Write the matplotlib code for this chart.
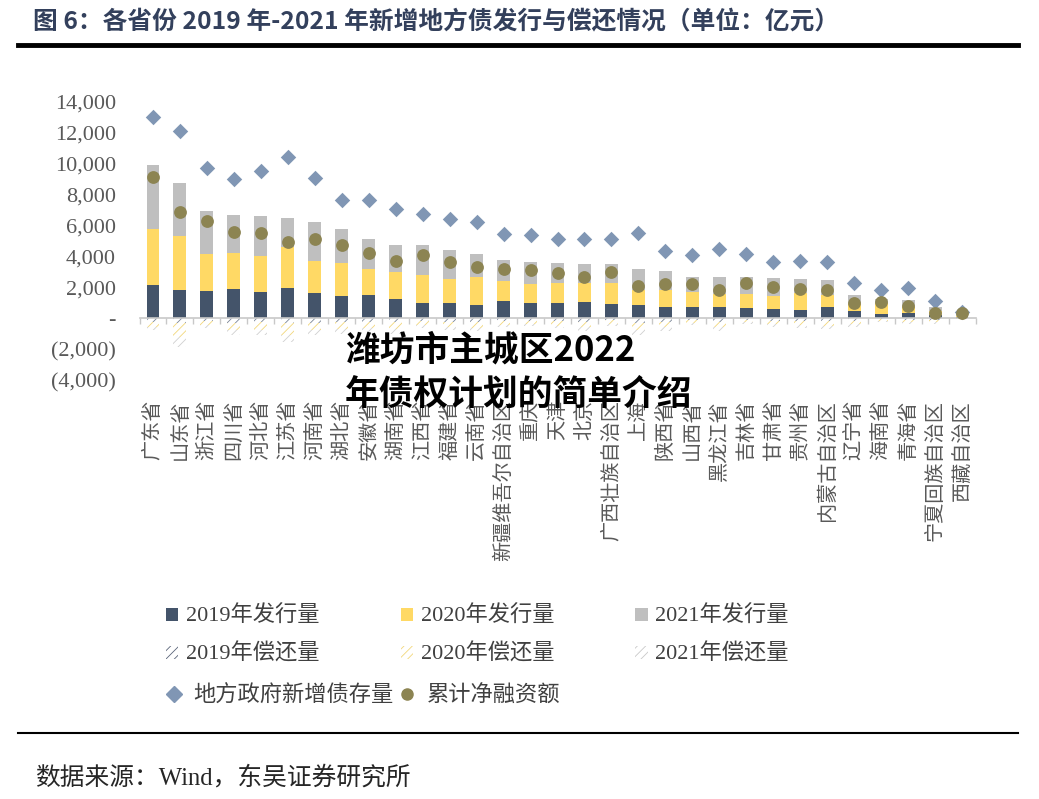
import matplotlib
matplotlib.use('Agg')
import matplotlib.pyplot as plt
import numpy as np
from matplotlib.patches import Patch
from matplotlib.lines import Line2D
from matplotlib.ticker import FuncFormatter, FixedLocator

provinces = ['广东省', '山东省', '浙江省', '四川省', '河北省', '江苏省', '河南省', '湖北省',
             '安徽省', '湖南省', '江西省', '福建省', '云南省', '新疆维吾尔自治区', '重庆', '天津',
             '北京', '广西壮族自治区', '上海', '陕西省', '山西省', '黑龙江省', '吉林省', '甘肃省',
             '贵州省', '内蒙古自治区', '辽宁省', '海南省', '青海省', '宁夏回族自治区', '西藏自治区']

issue_2019 = [2130, 1810, 1770, 1870, 1700, 1940, 1620, 1440, 1490, 1230, 950, 950, 840, 1100, 950, 950,
              1020, 910, 840, 740, 700, 700, 630, 570, 520, 700, 460, 270, 340, 200, 60]
issue_2020 = [3610, 3490, 2410, 2360, 2330, 2630, 2060, 2130, 1720, 1760, 1830, 1570, 1790, 1320, 1230, 1300,
              1270, 1340, 980, 1080, 1000, 850, 920, 860, 1080, 790, 490, 700, 430, 250, 100]
issue_2021 = [4160, 3430, 2740, 2430, 2570, 1910, 2530, 2190, 1890, 1730, 1940, 1880, 1550, 1330, 1450, 1310,
              1210, 1250, 1360, 1210, 970, 1080, 1080, 1150, 910, 1010, 540, 300, 390, 250, 150]

repay_2019 = [250, 300, 200, 300, 280, 300, 300, 280, 250, 280, 200, 220, 230, 180, 160, 200,
              250, 150, 300, 230, 140, 230, 120, 160, 180, 200, 160, 70, 120, 100, 10]
repay_2020 = [300, 950, 250, 450, 480, 800, 450, 420, 370, 450, 260, 320, 380, 250, 220, 280,
              350, 210, 480, 360, 200, 350, 160, 230, 270, 290, 230, 100, 160, 150, 20]
repay_2021 = [210, 600, 170, 330, 310, 450, 350, 310, 250, 300, 180, 210, 240, 160, 140, 180,
              220, 140, 310, 230, 130, 230, 100, 150, 170, 190, 150, 60, 110, 100, 20]

new_debt_stock = [13020, 12110, 9680, 8970, 9530, 10440, 9080, 7640, 7640, 7050, 6730, 6430, 6210, 5430,
                  5390, 5090, 5090, 5130, 5520, 4330, 4100, 4480, 4180, 3650, 3710, 3660, 2250, 1850,
                  1920, 1120, 400]
net_financing = [9140, 6880, 6290, 5580, 5520, 4940, 5110, 4740, 4230, 3690, 4080, 3650, 3320, 3150,
                 3100, 2890, 2670, 2990, 2070, 2200, 2200, 1810, 2250, 2020, 1870, 1810, 950, 1040,
                 780, 340, 340]

y_ticks = [-4000, -2000, 0, 2000, 4000, 6000, 8000, 10000, 12000, 14000]

series_labels = ['2019年发行量', '2020年发行量', '2021年发行量',
                 '2019年偿还量', '2020年偿还量', '2021年偿还量',
                 '地方政府新增债存量', '累计净融资额']

C_NAVY = '#44546A'
C_YEL = '#FFD965'
C_GRAY = '#BFBFBF'
C_DIA = '#8096B4'
C_CIR = '#8C8452'

serif_cjk = ['Liberation Serif', 'Noto Sans CJK SC']
plt.rcParams['hatch.linewidth'] = 0.6

W, H = 1039, 799
fig = plt.figure(figsize=(W / 100, H / 100), dpi=100)
ax = fig.add_axes([139.5 / W, 1 - 380 / H, 836 / W, 278.3 / H])

x = np.arange(len(provinces))
i19 = np.array(issue_2019)
i20 = np.array(issue_2020)
i21 = np.array(issue_2021)
r19 = -np.array(repay_2019)
r20 = -np.array(repay_2020)
r21 = -np.array(repay_2021)

bw = 0.48
ax.bar(x, i19, bw, color=C_NAVY, zorder=2)
ax.bar(x, i20, bw, bottom=i19, color=C_YEL, zorder=2)
ax.bar(x, i21, bw, bottom=i19 + i20, color=C_GRAY, zorder=2)
ax.bar(x, r19, bw, facecolor='white', edgecolor='#7A8496', hatch='////', linewidth=0, zorder=2)
ax.bar(x, r20, bw, bottom=r19, facecolor='white', edgecolor='#F2D77A', hatch='////', linewidth=0, zorder=2)
ax.bar(x, r21, bw, bottom=r19 + r20, facecolor='white', edgecolor='#CFCFCF', hatch='////', linewidth=0, zorder=2)

ax.scatter(x, new_debt_stock, marker='D', s=62, color=C_DIA, linewidths=0, zorder=4)
ax.scatter(x, net_financing, marker='o', s=85, color=C_CIR, linewidths=0, zorder=5)

ax.set_xlim(-0.5, len(provinces) - 0.5)
ax.set_ylim(-4000, 14000)

for s in ['top', 'right', 'left']:
    ax.spines[s].set_visible(False)
ax.spines['bottom'].set_position(('data', 0))
ax.spines['bottom'].set_color('#C8C8C8')
ax.spines['bottom'].set_linewidth(1.2)
ax.spines['bottom'].set_zorder(3)

ax.set_xticks(x)
ax.set_xticklabels(provinces, rotation=90, fontsize=14.5, color='#595959',
                   family=['Noto Sans CJK SC'])
ax.xaxis.set_minor_locator(FixedLocator(np.arange(-0.5, len(provinces), 1.0)))
ax.tick_params(axis='x', which='major', length=0, pad=59)
ax.tick_params(axis='x', which='minor', length=4, width=1, color='#C8C8C8', direction='out')

def yfmt(v, pos):
    if v == 0:
        return '-'
    if v < 0:
        return '({:,.0f})'.format(-v)
    return '{:,.0f}'.format(v)

ax.yaxis.set_major_locator(FixedLocator(y_ticks))
ax.yaxis.set_major_formatter(FuncFormatter(yfmt))
ax.tick_params(axis='y', length=0, pad=17, labelsize=16, labelcolor='#595959')
for lab in ax.get_yticklabels():
    lab.set_family('Liberation Serif')

# Title and rules
fig.text(33 / W, 1 - 21 / H, '图 6：各省份 2019 年-2021 年新增地方债发行与偿还情况（单位：亿元）',
         fontsize=17.8, weight='bold', color='#33405C', va='center', ha='left',
         family=['Noto Sans CJK SC'])
fig.add_artist(Line2D([18 / W, 1018 / W], [1 - 45 / H, 1 - 45 / H], lw=3.5, color='black'))
fig.add_artist(Line2D([18 / W, 1018 / W], [1 - 733 / H, 1 - 733 / H], lw=1.5, color='black'))
fig.text(35 / W, 1 - 778 / H, '数据来源：Wind，东吴证券研究所', fontsize=17.8, color='#262626',
         va='center', ha='left', family=serif_cjk)

# Legends
h_issue = [Patch(facecolor=c, edgecolor='none') for c in (C_NAVY, C_YEL, C_GRAY)]
h_repay = [Patch(facecolor='white', edgecolor=c, hatch='////', linewidth=0)
           for c in ('#5A6478', '#F2D77A', '#C8C8C8')]
handles = [h_issue[0], h_repay[0], h_issue[1], h_repay[1], h_issue[2], h_repay[2]]
labels = [series_labels[0], series_labels[3], series_labels[1], series_labels[4],
          series_labels[2], series_labels[5]]
leg1 = fig.legend(handles, labels, ncol=3, loc='upper left', bbox_to_anchor=(155 / W, 1 - 595 / H),
                  frameon=False, prop={'family': serif_cjk, 'size': 16}, handlelength=0.55,
                  handleheight=0.55, handletextpad=0.35, columnspacing=3.65, labelspacing=0.75,
                  borderpad=0, labelcolor='#404040')
h_mk = [Line2D([], [], marker='D', color=C_DIA, linestyle='none', markersize=8),
        Line2D([], [], marker='o', color=C_CIR, linestyle='none', markersize=8)]
leg2 = fig.legend(h_mk, series_labels[6:], ncol=2, loc='upper left', bbox_to_anchor=(155 / W, 1 - 674 / H),
                  frameon=False, prop={'family': serif_cjk, 'size': 16}, handlelength=0.7,
                  handletextpad=0.5, columnspacing=0.3, borderpad=0, labelcolor='#404040')

# Overlay text
fig.text(345 / W, 1 - 350 / H, '潍坊市主城区2022', fontsize=25, weight='heavy', color='black',
         va='center', ha='left', family=['Noto Sans CJK SC'], zorder=10)
fig.text(345 / W, 1 - 394 / H, '年债权计划的简单介绍', fontsize=25, weight='heavy', color='black',
         va='center', ha='left', family=['Noto Sans CJK SC'], zorder=10)

fig.savefig('out.png', dpi=100)
